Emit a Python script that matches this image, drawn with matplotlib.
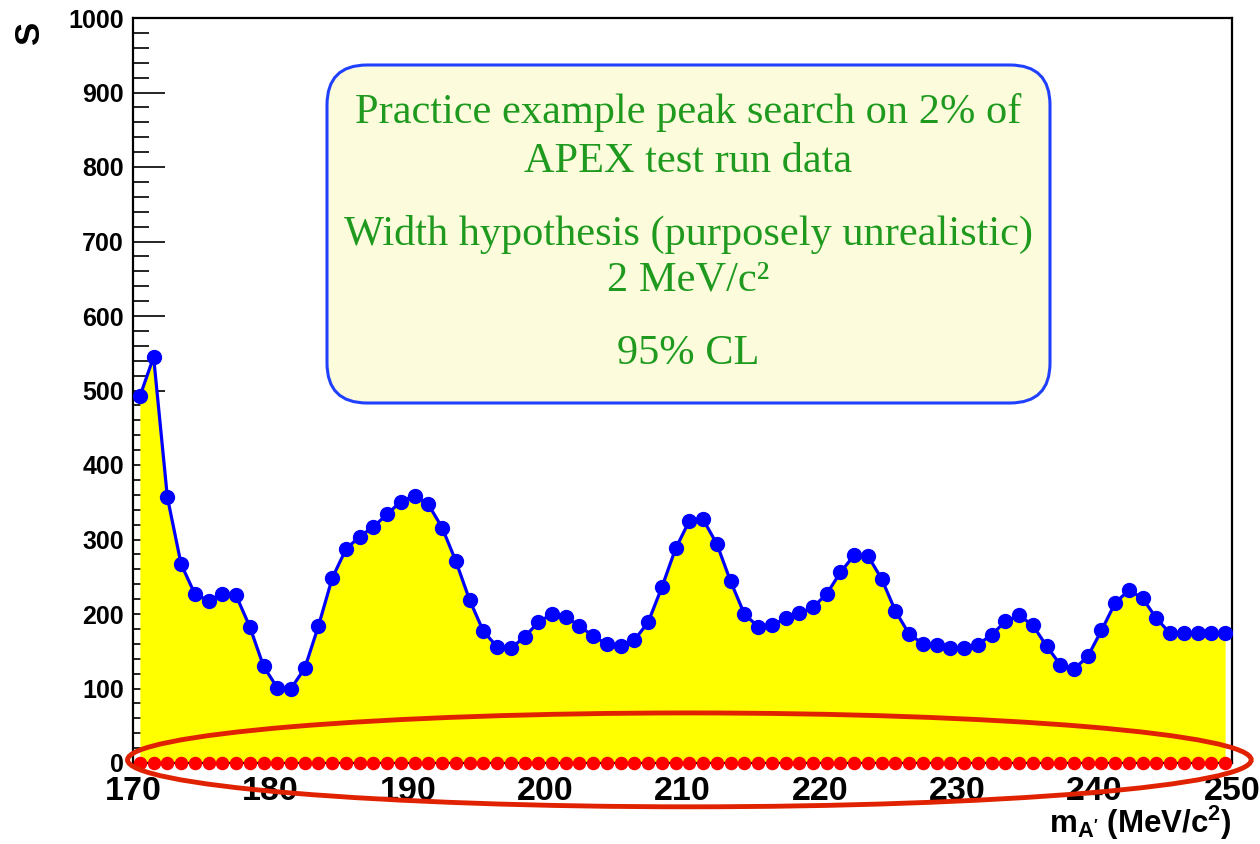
import numpy as np
import matplotlib
matplotlib.use("Agg")
import matplotlib.pyplot as plt
from matplotlib.patches import Ellipse, FancyBboxPatch

plt.rcParams['font.family'] = ['Liberation Sans', 'DejaVu Sans']
plt.rcParams['font.weight'] = 'bold'
plt.rcParams['mathtext.fontset'] = 'custom'
plt.rcParams['mathtext.rm'] = 'Liberation Sans:bold'
plt.rcParams['mathtext.it'] = 'Liberation Sans:bold'
plt.rcParams['mathtext.bf'] = 'Liberation Sans:bold'

# mass scan points (MeV/c^2), one per bin centre
mass = np.arange(170.5, 250.0, 1.0)

# signal upper limit S at each mass point
s_limit = [492, 545, 357, 267, 227, 218, 227, 225, 183, 130,
           101, 100, 127, 184, 248, 287, 304, 317, 334, 351,
           359, 347, 316, 271, 219, 177, 156, 154, 169, 189,
           200, 196, 184, 170, 160, 157, 165, 189, 236, 288,
           325, 327, 294, 244, 200, 183, 185, 194, 201, 209,
           227, 256, 279, 278, 247, 204, 173, 160, 158, 155,
           155, 159, 172, 190, 198, 185, 157, 132, 126, 143,
           178, 215, 232, 221, 194, 174, 174, 174, 174, 174]

# fitted signal yield at each mass point
s_fit = [0] * len(mass)

box_lines = ["Practice example peak search on 2% of",
             "APEX test run data",
             "Width hypothesis (purposely unrealistic)",
             "2 MeV/c\u00b2",
             "95% CL"]

fig = plt.figure(figsize=(12.6, 8.44), dpi=100)
ax = fig.add_axes([133/1260, 1 - 763/844, (1232-133)/1260, (763-18)/844])
ax.set_axisbelow(True)

ax.fill_between(mass, s_limit, 0, color='#ffff00', lw=0, zorder=1)
ax.plot(mass, s_limit, '-o', color='#0000ff', lw=2.3, ms=10, zorder=3)
ax.plot(mass, s_fit, 'o', color='#ff0000', ms=8.7, lw=0, zorder=4, clip_on=False)

ax.set_xlim(170, 250)
ax.set_ylim(0, 1000)
ax.set_xticks(np.arange(170, 251, 10))
ax.set_xticks(np.arange(170, 251, 2), minor=True)
ax.set_yticks(np.arange(0, 1001, 100))
ax.set_yticks(np.arange(0, 1001, 20), minor=True)
ax.tick_params(axis='both', which='both', direction='in', top=False, right=False, width=1.2)
ax.tick_params(axis='y', which='major', length=23, labelsize=18, pad=6.5)
ax.tick_params(axis='y', which='minor', length=11.5)
ax.tick_params(axis='x', which='major', length=16, labelsize=24.5, pad=9)
ax.tick_params(axis='x', which='minor', length=8)
for sp in ax.spines.values():
    sp.set_linewidth(1.6)

# red ring around the zero line
ring = Ellipse((210.5, 4.2), width=81.8, height=126, fill=False,
               ec='#e02200', lw=3.5, zorder=6, clip_on=False)
ax.add_patch(ring)

# info box
box = FancyBboxPatch((3.27, 4.41), 7.23, 3.38,
                     boxstyle="round,pad=0,rounding_size=0.4",
                     fc='#fcfcdc', ec='#2040ff', lw=2.2,
                     transform=fig.dpi_scale_trans, zorder=5)
fig.patches.append(box)
line_y = [7.32, 6.82, 6.10, 5.64, 4.90]
for txt, yy in zip(box_lines, line_y):
    fig.text(6.885, yy, txt, transform=fig.dpi_scale_trans, ha='center', va='center',
             family='Liberation Serif', weight='normal', fontsize=30.5, color='#1f9a1f', zorder=6)

fig.text(0.30, 8.12, 'S', transform=fig.dpi_scale_trans, rotation=90,
         ha='center', va='center', fontsize=25, weight='bold')
fig.text(12.32, 0.02, r"m$_{\rm A'}$ (MeV/c$^{\rm 2}$)", transform=fig.dpi_scale_trans,
         ha='right', va='bottom', fontsize=22.5, weight='bold')

fig.savefig('out.png', dpi=100)
